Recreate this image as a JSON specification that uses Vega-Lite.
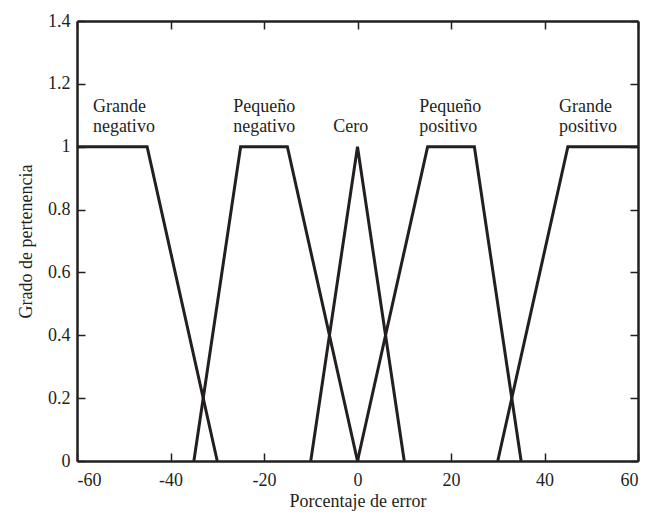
{
  "$schema": "https://vega.github.io/schema/vega-lite/v6.json",
  "width": 561,
  "height": 440,
  "autosize": {"type": "none"},
  "padding": {"left": 77, "top": 21, "right": 16, "bottom": 56},
  "background": "white",
  "config": {
    "view": {"stroke": null},
    "font": "Liberation Serif",
    "axis": {
      "grid": false,
      "domainColor": "#231f20",
      "domainWidth": 2.5,
      "tickColor": "#231f20",
      "tickWidth": 1.5,
      "tickSize": -8,
      "labelFont": "Liberation Serif",
      "labelFontSize": 18,
      "labelColor": "#231f20",
      "titleFont": "Liberation Serif",
      "titleFontSize": 18,
      "titleFontWeight": "normal",
      "titleColor": "#231f20"
    }
  },
  "datasets": {
    "sets": [
      {"set": "GN", "e": -60, "g": 1},
      {"set": "GN", "e": -45, "g": 1},
      {"set": "GN", "e": -30, "g": 0},
      {"set": "PN", "e": -35, "g": 0},
      {"set": "PN", "e": -25, "g": 1},
      {"set": "PN", "e": -15, "g": 1},
      {"set": "PN", "e": 0, "g": 0},
      {"set": "Z", "e": -10, "g": 0},
      {"set": "Z", "e": 0, "g": 1},
      {"set": "Z", "e": 10, "g": 0},
      {"set": "PP", "e": 0, "g": 0},
      {"set": "PP", "e": 15, "g": 1},
      {"set": "PP", "e": 25, "g": 1},
      {"set": "PP", "e": 35, "g": 0},
      {"set": "GP", "e": 30, "g": 0},
      {"set": "GP", "e": 45, "g": 1},
      {"set": "GP", "e": 60, "g": 1}
    ],
    "labels": [
      {"t": "Grande", "e": -56.6, "g": 1.1105},
      {"t": "negativo", "e": -56.6, "g": 1.0468},
      {"t": "Pequeño", "e": -26.6, "g": 1.1105},
      {"t": "negativo", "e": -26.6, "g": 1.0468},
      {"t": "Cero", "e": -5.2, "g": 1.0468},
      {"t": "Pequeño", "e": 13.2, "g": 1.1105},
      {"t": "positivo", "e": 13.2, "g": 1.0468},
      {"t": "Grande", "e": 43.1, "g": 1.1105},
      {"t": "positivo", "e": 43.1, "g": 1.0468}
    ]
  },
  "layer": [
    {
      "data": {"name": "sets"},
      "mark": {"type": "line", "color": "#231f20", "strokeWidth": 3, "strokeJoin": "miter"},
      "encoding": {
        "x": {
          "field": "e", "type": "quantitative",
          "scale": {"domain": [-60, 60], "nice": false},
          "axis": {"orient": "bottom", "values": [-60, -40, -20, 0, 20, 40, 60], "labelExpr": "datum.value < 0 ? '-' + abs(datum.value) : '' + datum.value", "title": "Porcentaje de error", "labelPadding": 18, "titlePadding": 3}
        },
        "y": {
          "field": "g", "type": "quantitative",
          "scale": {"domain": [0, 1.4], "nice": false, "zero": false},
          "axis": {"orient": "left", "values": [0, 0.2, 0.4, 0.6, 0.8, 1, 1.2, 1.4], "format": "~g", "title": "Grado de pertenencia", "labelPadding": 15, "titlePadding": 12}
        },
        "detail": {"field": "set"}
      }
    },
    {
      "data": {"name": "labels"},
      "mark": {"type": "text", "align": "left", "baseline": "alphabetic", "fontSize": 18, "font": "Liberation Serif", "color": "#231f20"},
      "encoding": {
        "x": {
          "field": "e", "type": "quantitative",
          "axis": {"orient": "top", "values": [-60, -40, -20, 0, 20, 40, 60], "labels": false, "title": null}
        },
        "y": {
          "field": "g", "type": "quantitative",
          "axis": {"orient": "right", "values": [0, 0.2, 0.4, 0.6, 0.8, 1, 1.2, 1.4], "labels": false, "title": null}
        },
        "text": {"field": "t"}
      }
    }
  ],
  "resolve": {"axis": {"x": "independent", "y": "independent"}}
}
